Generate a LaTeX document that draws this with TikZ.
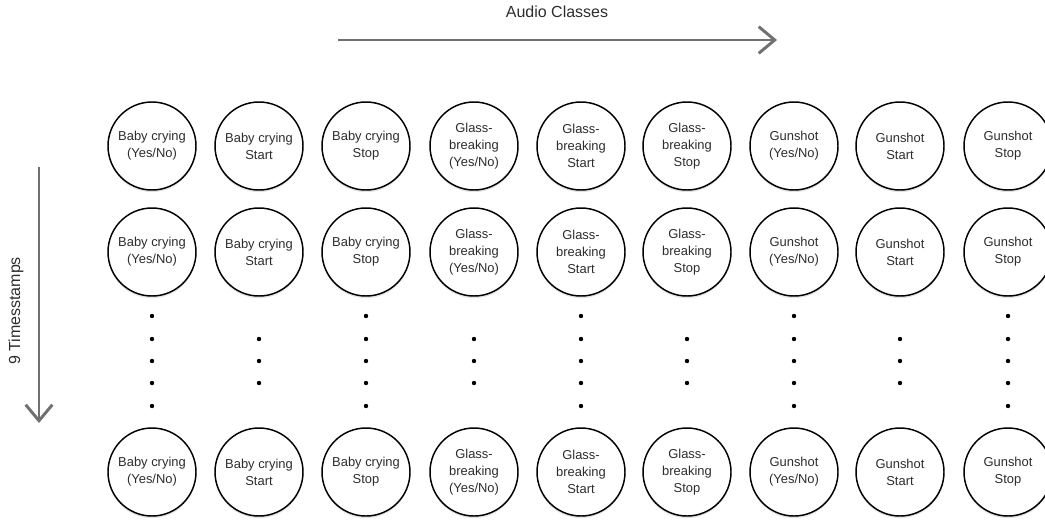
\documentclass[tikz,border=0pt]{standalone}
\usepackage{fontspec}
\setmainfont{Liberation Sans}
\usetikzlibrary{arrows.meta,shadows}
\definecolor{ink}{RGB}{45,45,45}
\definecolor{axisgray}{RGB}{112,112,112}
\tikzset{
  unit/.style={circle,draw=black,line width=1.1pt,fill=white,minimum size=66pt,
    inner sep=0pt,align=center,text=ink,font=\fontsize{9.7}{12.6}\selectfont,
    drop shadow={shadow xshift=0pt,shadow yshift=-1.6pt,opacity=0.22}},
  axis arrow/.style={-{Straight Barb[length=12pt,width=20pt,line width=2.2pt]},
    line width=2.2pt,draw=axisgray},
  axis label/.style={font=\fontsize{12}{14}\selectfont,text=ink},
  ellipsis dot/.style={fill=black},
}
\begin{document}
\begin{tikzpicture}[x=0.75pt,y=-0.75pt]
  \useasboundingbox (0,0) rectangle (1045,525);
  % axes
  \coordinate (ac-start) at (338,40);
  \coordinate (ac-end) at (777,40);
  \draw[axis arrow] (ac-start) -- (ac-end);
  \node[axis label] (ac-label) at (557,12) {Audio Classes};
  \coordinate (ts-start) at (39,167);
  \coordinate (ts-end) at (39,423);
  \draw[axis arrow] (ts-start) -- (ts-end);
  \node[axis label,rotate=90] (ts-label) at (16,311) {9 Timesstamps};
  % output units, one row per timestamp
  \foreach \r/\y in {1/146,2/252,3/472}{
    \node[unit] (u-\r-1) at (152,\y) {Baby crying\\(Yes/No)};
    \node[unit] (u-\r-2) at (259,\y) {Baby crying\\Start};
    \node[unit] (u-\r-3) at (366,\y) {Baby crying\\Stop};
    \node[unit] (u-\r-4) at (474,\y) {Glass-\\breaking\\(Yes/No)};
    \node[unit] (u-\r-5) at (581,\y) {Glass-\\breaking\\Start};
    \node[unit] (u-\r-6) at (687,\y) {Glass-\\breaking\\Stop};
    \node[unit] (u-\r-7) at (794,\y) {Gunshot\\(Yes/No)};
    \node[unit] (u-\r-8) at (900,\y) {Gunshot\\Start};
    \node[unit] (u-\r-9) at (1008,\y) {Gunshot\\Stop};
  }
  % vertical ellipses
  \foreach \x in {152,366,581,794,1008}
    \foreach \y in {316,339,361,383,406}
      \fill[ellipsis dot] (\x,\y) circle (2.2);
  \foreach \x in {259,474,687,900}
    \foreach \y in {339,361,383}
      \fill[ellipsis dot] (\x,\y) circle (2.2);
\end{tikzpicture}
\end{document}
